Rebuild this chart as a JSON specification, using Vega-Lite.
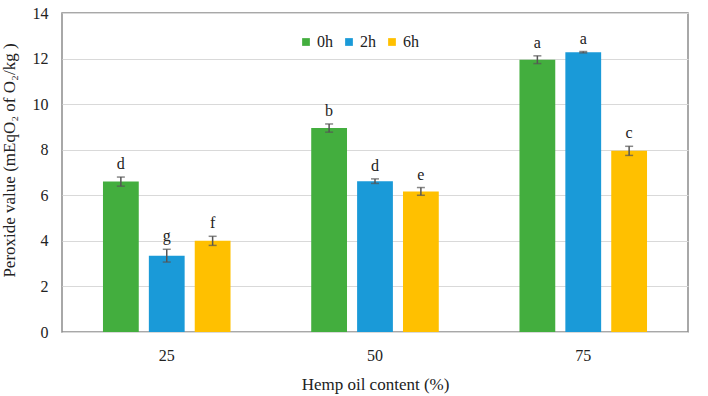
{
  "$schema": "https://vega.github.io/schema/vega-lite/v6.json",
  "width": 626,
  "height": 319,
  "autosize": {"type": "none"},
  "padding": {"left": 62, "top": 13, "right": 20, "bottom": 64},
  "background": "white",
  "config": {
    "font": "Liberation Serif",
    "view": {"stroke": "#8c8c8c", "strokeWidth": 1.5},
    "axis": {"labelFont": "Liberation Serif", "titleFont": "Liberation Serif", "labelColor": "#222", "titleColor": "#222", "titleFontWeight": "normal"}
  },
  "data": {
    "values": [
      {"oil": "25", "time": "0h", "value": 6.6, "lo": 6.4, "hi": 6.8, "sig": "d"},
      {"oil": "25", "time": "2h", "value": 3.35, "lo": 3.07, "hi": 3.63, "sig": "g"},
      {"oil": "25", "time": "6h", "value": 4.0, "lo": 3.8, "hi": 4.2, "sig": "f"},
      {"oil": "50", "time": "0h", "value": 8.95, "lo": 8.77, "hi": 9.13, "sig": "b"},
      {"oil": "50", "time": "2h", "value": 6.62, "lo": 6.52, "hi": 6.72, "sig": "d"},
      {"oil": "50", "time": "6h", "value": 6.17, "lo": 6.0, "hi": 6.34, "sig": "e"},
      {"oil": "75", "time": "0h", "value": 11.95, "lo": 11.78, "hi": 12.12, "sig": "a"},
      {"oil": "75", "time": "2h", "value": 12.28, "lo": 12.25, "hi": 12.31, "sig": "a"},
      {"oil": "75", "time": "6h", "value": 7.95, "lo": 7.75, "hi": 8.15, "sig": "c"}
    ]
  },
  "encoding": {
    "x": {
      "field": "oil", "type": "nominal",
      "scale": {"paddingInner": 0.339, "paddingOuter": 0.1725},
      "axis": {"title": "Hemp oil content (%)", "labelAngle": 0, "labelFont": "Liberation Serif", "titleFont": "Liberation Serif", "labelFontSize": 16, "titleFontSize": 17, "labelPadding": 15, "titlePadding": 13, "ticks": false, "domain": false}
    },
    "xOffset": {"field": "time", "type": "nominal", "scale": {"paddingInner": 0.22, "paddingOuter": 0.11}}
  },
  "layer": [
    {
      "mark": {"type": "bar"},
      "encoding": {
        "y": {
          "field": "value", "type": "quantitative",
          "scale": {"domain": [0, 14]},
          "axis": {"title": "Peroxide value (mEqO₂ of O₂/kg )", "values": [0, 2, 4, 6, 8, 10, 12, 14], "labelFont": "Liberation Serif", "titleFont": "Liberation Serif", "labelFontSize": 16, "titleFontSize": 17, "ticks": false, "domain": false, "labelPadding": 14, "titlePadding": 14, "titleY": 147, "gridColor": "#d9d9d9", "gridWidth": 1.2}
        },
        "color": {
          "field": "time", "type": "nominal",
          "scale": {"domain": ["0h", "2h", "6h"], "range": ["#43ae3e", "#1a9ad8", "#ffc000"]},
          "legend": {"title": null, "orient": "none", "legendX": 236, "legendY": 21, "direction": "horizontal", "symbolType": "square", "symbolSize": 60, "symbolStrokeWidth": 0, "labelFontSize": 16, "labelFont": "Liberation Serif", "labelColor": "#222", "columnPadding": 8, "labelOffset": 3}
        }
      }
    },
    {
      "mark": {"type": "rule", "color": "#555", "strokeWidth": 1.5},
      "encoding": {"y": {"field": "lo", "type": "quantitative"}, "y2": {"field": "hi"}}
    },
    {
      "mark": {"type": "tick", "color": "#555", "thickness": 1.5, "size": 8, "orient": "horizontal"},
      "encoding": {"y": {"field": "lo", "type": "quantitative"}}
    },
    {
      "mark": {"type": "tick", "color": "#555", "thickness": 1.5, "size": 8, "orient": "horizontal"},
      "encoding": {"y": {"field": "hi", "type": "quantitative"}}
    },
    {
      "mark": {"type": "text", "baseline": "alphabetic", "dy": -8, "fontSize": 16, "color": "#222", "font": "Liberation Serif"},
      "encoding": {"y": {"field": "hi", "type": "quantitative"}, "text": {"field": "sig"}}
    }
  ]
}
